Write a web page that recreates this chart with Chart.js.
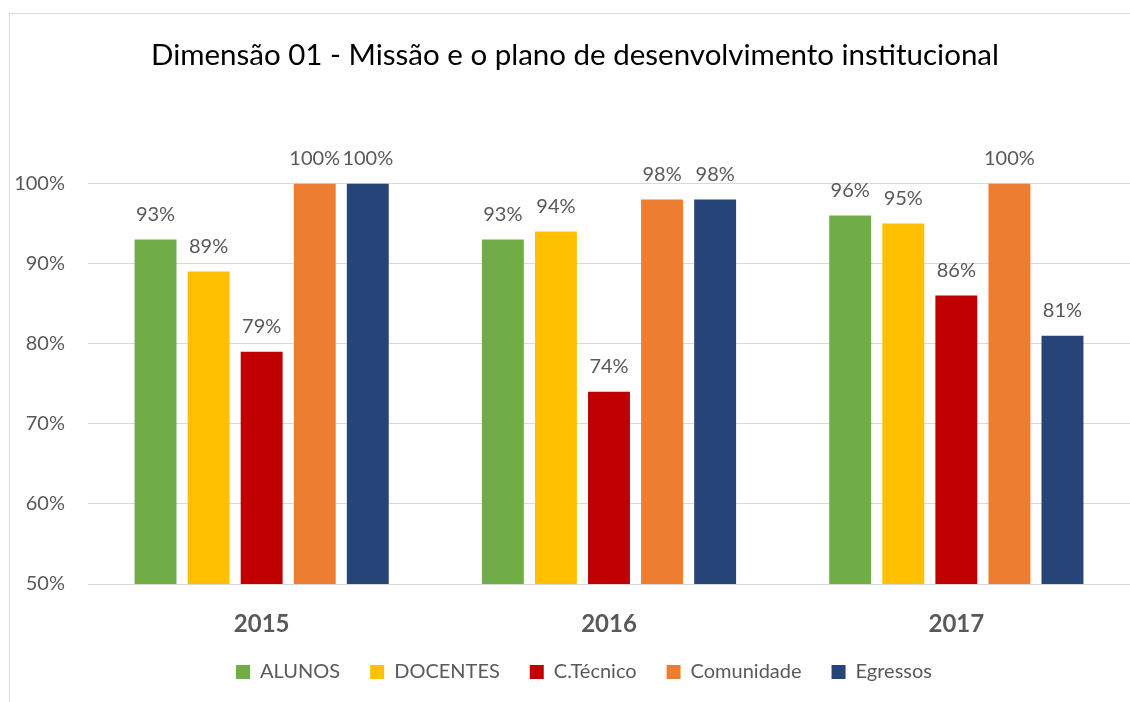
<!DOCTYPE html>
<html>
<head>
<meta charset="utf-8">
<script src="https://cdn.jsdelivr.net/npm/chart.js@4"></script>
<style>
  body { margin: 0; background: #fff; }
  #wrap { position: relative; width: 1130px; height: 702px; overflow: hidden; }
  #frame { position: absolute; left: 9px; top: 13px; width: 1200px; height: 800px;
           border-left: 1px solid #d9d9d9; border-top: 1px solid #d9d9d9; pointer-events: none; }
</style>
</head>
<body>
<div id="wrap">
  <canvas id="myChart" width="1130" height="702"></canvas>
  <div id="frame"></div>
</div>
<script>
'use strict';
let years = ['2015', '2016', '2017'];
let seriesNames = ['ALUNOS', 'DOCENTES', 'C.Técnico', 'Comunidade', 'Egressos'];
let seriesColors = ['#70AD47', '#FFC000', '#C00000', '#ED7D31', '#264478'];
let alunos = [93, 93, 96];
let docentes = [89, 94, 95];
let cTecnico = [79, 74, 86];
let comunidade = [100, 98, 100];
let egressos = [100, 98, 81];
let allValues = [alunos, docentes, cTecnico, comunidade, egressos];

let fontName = 'Lato, "Open Sans", sans-serif';
let gray = '#595959';

// labels above the bars, like the excel data labels
let barLabels = {
    id: 'barLabels',
    afterDatasetsDraw(chart) {
        let ctx = chart.ctx;
        ctx.save();
        ctx.font = '20px ' + fontName;
        ctx.fillStyle = gray;
        ctx.textAlign = 'center';
        ctx.textBaseline = 'middle';
        chart.data.datasets.forEach(function (ds, i) {
            let meta = chart.getDatasetMeta(i);
            meta.data.forEach(function (bar, j) {
                ctx.fillText(ds.data[j] + '%', bar.x, bar.y - 25);
            });
        });
        ctx.restore();
    }
};

// legend and title sit a bit right of the canvas middle in the original
let boxShift = {
    id: 'boxShift',
    afterLayout(chart) {
        chart.legend.left += 14;
        chart.legend.right += 14;
        chart.titleBlock.left += 5;
        chart.titleBlock.right += 5;
    }
};

let datasets = [];
for (let i = 0; i < seriesNames.length; i++) {
    datasets.push({
        label: seriesNames[i],
        data: allValues[i],
        backgroundColor: seriesColors[i],
        borderWidth: 0,
        categoryPercentage: 0.764,
        barPercentage: 0.79
    });
}

let ctx = document.getElementById('myChart').getContext('2d');
let myChart = new Chart(ctx, {
    type: 'bar',
    data: { labels: years, datasets: datasets },
    plugins: [barLabels, boxShift],
    options: {
        responsive: false,
        animation: false,
        layout: { padding: { left: 10, right: 0, top: 0, bottom: 10 } },
        plugins: {
            title: {
                display: true,
                text: 'Dimensão 01 - Missão e o plano de desenvolvimento institucional',
                color: '#000',
                font: { family: fontName, size: 29.5, weight: 'normal' },
                padding: { top: 38, bottom: 110 }
            },
            legend: {
                position: 'bottom',
                labels: {
                    color: gray,
                    font: { family: fontName, size: 20 },
                    boxWidth: 14,
                    boxHeight: 14,
                    padding: 30
                }
            },
            tooltip: { enabled: false }
        },
        scales: {
            x: {
                afterFit: function (scale) { scale.height = 48; },
                grid: { display: false },
                border: { color: '#d9d9d9' },
                ticks: { color: gray, font: { family: fontName, size: 24, weight: 'bold' }, padding: 18 }
            },
            y: {
                min: 50,
                max: 100,
                afterFit: function (scale) { scale.width = 78; },
                grid: { color: '#d9d9d9', drawTicks: false },
                border: { display: false },
                ticks: {
                    stepSize: 10,
                    padding: 23,
                    color: gray,
                    font: { family: fontName, size: 20 },
                    callback: function (v) { return v + '%'; }
                }
            }
        }
    }
});
</script>
</body>
</html>
